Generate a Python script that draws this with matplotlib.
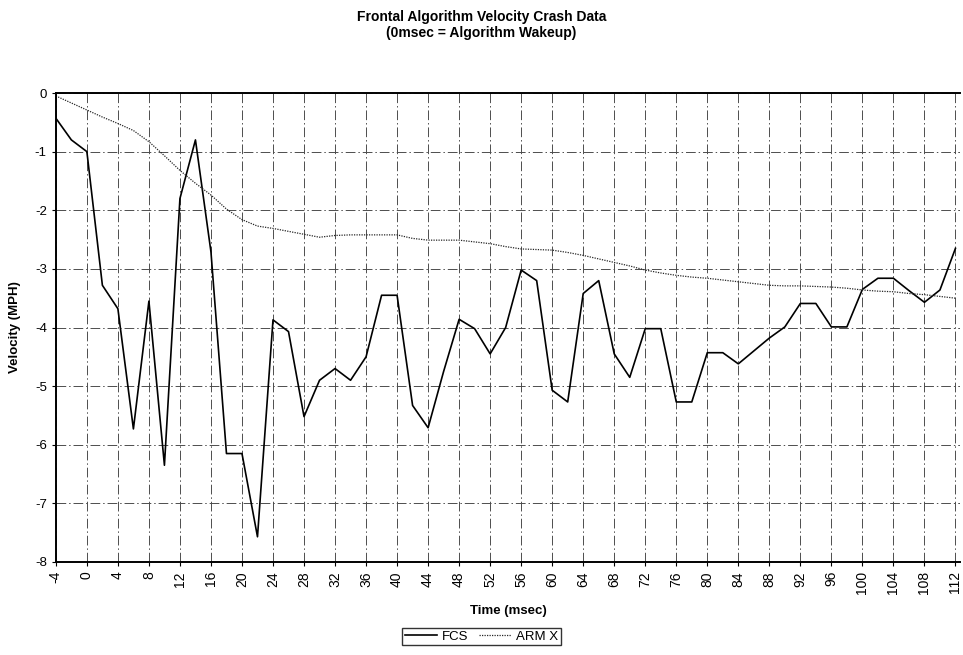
import numpy as np
import matplotlib.pyplot as plt

plt.rcParams['font.family'] = ['Liberation Sans', 'DejaVu Sans']

# time axis, samples every 2 msec
time_ms = np.arange(-4, 113, 2)

fcs = [-0.43, -0.8, -1.0, -3.28, -3.68, -5.73, -3.55, -6.35, -1.8, -0.8,
       -2.71, -6.15, -6.15, -7.57, -3.87, -4.07, -5.52, -4.9, -4.7, -4.9,
       -4.5, -3.45, -3.45, -5.33, -5.71, -4.75, -3.86, -4.02, -4.45, -4.0,
       -3.02, -3.2, -5.07, -5.27, -3.42, -3.2, -4.45, -4.85, -4.02, -4.02,
       -5.27, -5.27, -4.43, -4.43, -4.62, -4.4, -4.18, -3.99, -3.59, -3.59,
       -3.99, -3.99, -3.35, -3.16, -3.16, -3.37, -3.57, -3.36, -2.65]

arm_x = [-0.05, -0.17, -0.29, -0.41, -0.52, -0.64, -0.83, -1.07, -1.32, -1.54,
         -1.74, -1.98, -2.16, -2.27, -2.31, -2.36, -2.41, -2.46, -2.43, -2.42,
         -2.42, -2.42, -2.42, -2.48, -2.51, -2.51, -2.51, -2.54, -2.57, -2.62,
         -2.66, -2.67, -2.68, -2.72, -2.77, -2.83, -2.89, -2.95, -3.02, -3.07,
         -3.11, -3.14, -3.16, -3.19, -3.22, -3.25, -3.28, -3.29, -3.29, -3.30,
         -3.31, -3.33, -3.36, -3.38, -3.39, -3.42, -3.44, -3.47, -3.5]

x_ticks = np.arange(-4, 113, 4)
y_ticks = np.arange(-8, 1, 1)

fig = plt.figure(figsize=(9.63, 6.55), dpi=100)
ax = fig.add_axes([0.058, 0.142, 0.939, 0.716])

ax.plot(time_ms, fcs, color='black', lw=1.2, label='FCS')
ax.plot(time_ms, arm_x, color='0.15', lw=0.9, linestyle=(0, (1, 1)), label='ARM X')

ax.set_xlim(-4, 112.6)
ax.set_ylim(-8, 0)
ax.set_xticks(x_ticks)
ax.set_yticks(y_ticks)
ax.set_xticklabels([str(t) for t in x_ticks], rotation=90, fontsize=10)
ax.set_yticklabels([str(v) for v in y_ticks], fontsize=9.5)
ax.tick_params(length=3, width=0.8, color='black')

# dash-dot grid every 4 msec and every 1 MPH
ax.grid(True, color='0.3', lw=0.7, linestyle=(0, (10, 3, 1.5, 3)))
ax.set_axisbelow(True)
for side in ['left', 'bottom', 'top']:
    ax.spines[side].set_linewidth(1.4)
ax.spines['right'].set_visible(False)

ax.set_xlabel('Time (msec)', fontsize=9.5, fontweight='bold', labelpad=8)
ax.set_ylabel('Velocity (MPH)', fontsize=9.5, fontweight='bold', labelpad=10)
fig.suptitle('Frontal Algorithm Velocity Crash Data\n(0msec = Algorithm Wakeup)',
             fontsize=10, fontweight='bold', y=0.985, linespacing=1.2)

leg = fig.legend(loc='center', bbox_to_anchor=(0.5, 0.028), ncol=2, fontsize=9.5,
                 frameon=True, fancybox=False, handlelength=2.4, handletextpad=0.4,
                 columnspacing=0.8, borderpad=0.2, borderaxespad=0)
leg.get_frame().set_edgecolor('black')
leg.get_frame().set_linewidth(1.0)

fig.savefig('out.png', dpi=100)
